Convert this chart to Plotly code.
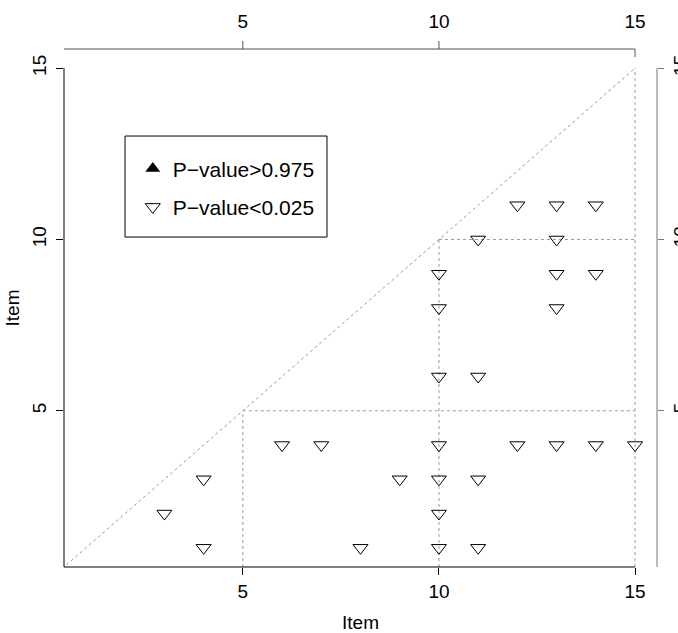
import plotly.graph_objects as go

# ---- data ----
low_x = [3, 4, 4, 6, 7, 8, 9, 10, 10, 10, 10, 10, 10, 10, 11, 11, 11, 11,
         12, 13, 13, 13, 13, 14, 14, 12, 13, 14, 15]
low_y = [2, 3, 1, 4, 4, 1, 3, 9, 8, 6, 4, 3, 2, 1, 10, 6, 3, 1,
         11, 11, 10, 9, 8, 11, 9, 4, 4, 4, 4]
high_x = []
high_y = []
block_bounds = [5, 10, 15]
tick_vals = [5, 10, 15]
tick_text = ["5", "10", "15"]
n_items = 15

# ---- scales ----
lo, hi = 1, n_items
pad = 0.04 * (hi - lo)
X_LO, X_HI = lo - pad, hi + pad
Y_LO, Y_HI = lo - pad, hi + pad

FONT = "Liberation Sans, Arial, sans-serif"
fig = go.Figure()

# dotted reference lines: diagonal and block outlines
lx, ly = [0.5, n_items, None], [0.5, n_items, None]
for b in block_bounds:
    lx += [b, b, None, b, n_items, None]
    ly += [Y_LO, b, None, b, b, None]
fig.add_trace(go.Scatter(x=lx, y=ly, mode="lines", showlegend=False,
                         hoverinfo="skip",
                         line=dict(color="#9a9a9a", width=1, dash="dot")))

fig.add_trace(go.Scatter(x=high_x if high_x else [None],
                         y=high_y if high_y else [None], mode="markers",
                         name="P\u2212value>0.975", legendgroup="a", showlegend=True,
                         marker=dict(symbol="triangle-up", size=13, color="black")))
fig.add_trace(go.Scatter(x=low_x, y=low_y, mode="markers",
                         name="P\u2212value<0.025", legendgroup="b",
                         marker=dict(symbol="triangle-down-open", size=13,
                                     color="black", line=dict(width=1, color="black"))))
# invisible trace to activate secondary axes
fig.add_trace(go.Scatter(x=[None], y=[None], xaxis="x2", yaxis="y2",
                         showlegend=False, hoverinfo="skip"))

axis_common = dict(showgrid=False, zeroline=False, showline=False,
                   tickvals=tick_vals, ticktext=tick_text,
                   tickfont=dict(family=FONT, size=19, color="black"))

fig.update_layout(
    width=678, height=633,
    margin=dict(l=64, r=21, t=49, b=66, autoexpand=False),
    paper_bgcolor="white", plot_bgcolor="white",
    font=dict(family=FONT, color="black"),
    xaxis=dict(range=[X_LO, X_HI], ticks="outside", ticklen=7, tickcolor="black",
               title=dict(text="Item", font=dict(size=19), standoff=14),
               automargin=False, **axis_common),
    yaxis=dict(range=[Y_LO, Y_HI], ticks="outside", ticklen=7, tickcolor="black",
               tickangle=-90, ticklabelstandoff=2,
               title=dict(text="Item", font=dict(size=19), standoff=4),
               automargin=False, **axis_common),
    xaxis2=dict(range=[X_LO, X_HI], overlaying="x", side="top", anchor="y",
                ticks="", ticklabelstandoff=16, automargin=False, **axis_common),
    yaxis2=dict(range=[Y_LO, Y_HI], overlaying="y", side="right", anchor="x",
                ticks="outside", ticklen=6, tickcolor="#777777", tickangle=-90,
                automargin=False, **axis_common),
    legend=dict(x=0.116, y=0.808, xanchor="left", yanchor="top",
                bgcolor="rgba(0,0,0,0)", borderwidth=0,
                tracegroupgap=8, font=dict(family=FONT, size=21)),
    showlegend=True,
)

shapes = []
# axis lines
shapes.append(dict(type="line", xref="x", yref="paper", x0=X_LO, x1=n_items, y0=0, y1=0,
                   line=dict(color="black", width=1)))
shapes.append(dict(type="line", xref="paper", yref="y", x0=0, x1=0, y0=Y_LO, y1=n_items,
                   line=dict(color="black", width=1)))
shapes.append(dict(type="line", xref="x", yref="paper", x0=X_LO, x1=n_items, y0=1, y1=1,
                   line=dict(color="#555555", width=1)))
shapes.append(dict(type="line", xref="paper", yref="y", x0=1, x1=1, y0=Y_LO, y1=n_items,
                   line=dict(color="#777777", width=1)))
# top axis ticks
for v in tick_vals:
    up = 8 if v < n_items else -8
    shapes.append(dict(type="line", xref="x", yref="paper", x0=v, x1=v,
                       ysizemode="pixel", yanchor=1, y0=0, y1=up,
                       line=dict(color="#555555", width=1)))
# legend box
shapes.append(dict(type="rect", xref="paper", yref="paper",
                   x0=0.1029, x1=0.4435, y0=0.637, y1=0.832,
                   line=dict(color="black", width=1), fillcolor="rgba(0,0,0,0)"))
fig.update_layout(shapes=shapes)

fig.write_html("out.html")
